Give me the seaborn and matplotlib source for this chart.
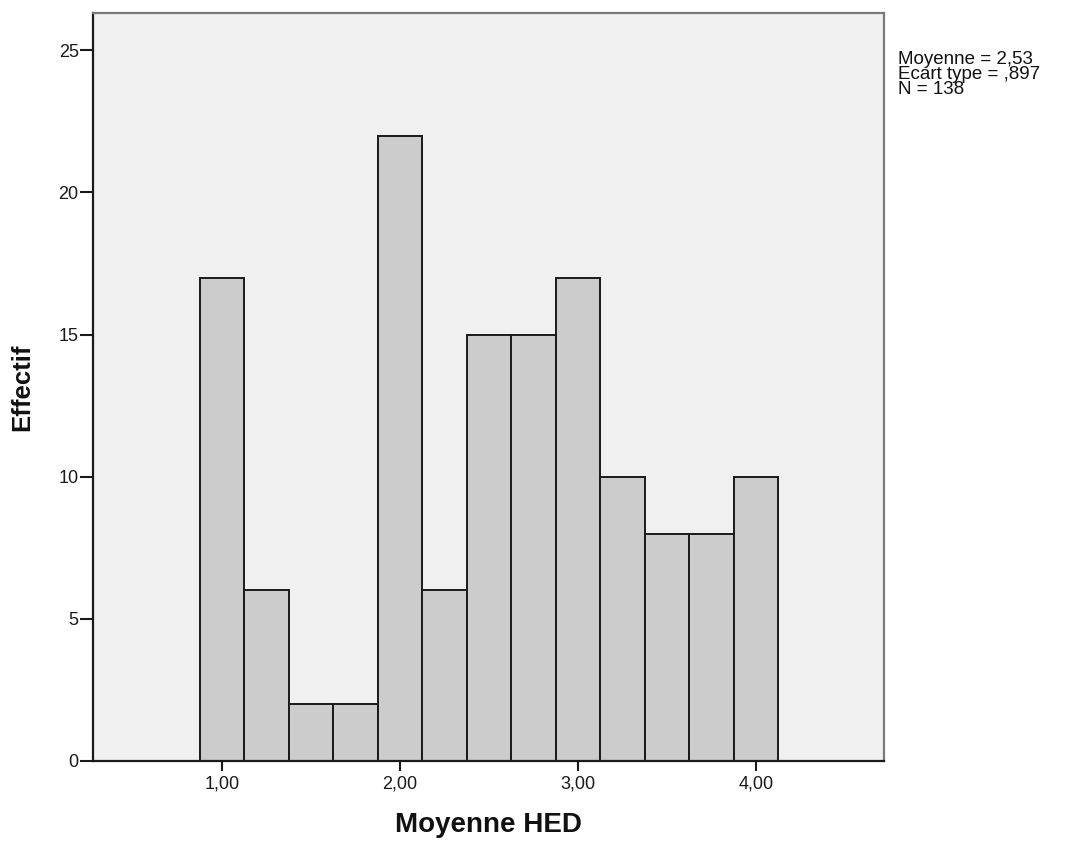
import numpy as np
import pandas as pd
import matplotlib
matplotlib.use("Agg")
import matplotlib.pyplot as plt
import seaborn as sns

# Histogram bins (centres) and counts of "Moyenne HED"
bin_centers = [1.00, 1.25, 1.50, 1.75, 2.00, 2.25, 2.50, 2.75, 3.00, 3.25, 3.50, 3.75, 4.00]
counts = [17, 6, 2, 2, 22, 6, 15, 15, 17, 10, 8, 8, 10]
bin_width = 0.25
x_ticks = [1.0, 2.0, 3.0, 4.0]
x_tick_labels = ["1,00", "2,00", "3,00", "4,00"]
y_ticks = [0, 5, 10, 15, 20, 25]
stats_text = "Moyenne = 2,53\nEcart type = ,897\nN = 138"

df = pd.DataFrame({"HED": bin_centers, "n": counts})
bin_range = (bin_centers[0] - bin_width / 2, bin_centers[-1] + bin_width / 2)

sns.set_theme(style="white")
plt.rcParams["font.family"] = ["Liberation Sans", "DejaVu Sans"]

fig = plt.figure(figsize=(10.65, 8.43), dpi=100)
ax = fig.add_axes([0.0876, 0.0973, 0.7424, 0.8869])
ax.set_facecolor("#F0F0F0")

sns.histplot(data=df, x="HED", weights="n", binwidth=bin_width, binrange=bin_range, ax=ax,
             color="#CCCCCC", alpha=1.0, edgecolor="#1a1a1a", linewidth=1.4)

ax.set_xlim(0.275, 4.72)
ax.set_ylim(0, 26.3)
ax.set_xticks(x_ticks)
ax.set_xticklabels(x_tick_labels)
ax.set_yticks(y_ticks)
ax.set_yticklabels([str(v) for v in y_ticks])

ax.tick_params(axis="both", which="major", direction="out", width=1.5,
               color="#1a1a1a", labelsize=13, labelcolor="#1a1a1a", bottom=True, left=True)
ax.tick_params(axis="y", length=9.5, pad=1)
ax.tick_params(axis="x", length=7.5, pad=3)

for side in ("left", "bottom"):
    ax.spines[side].set_color("#1a1a1a")
    ax.spines[side].set_linewidth(1.6)
for side in ("top", "right"):
    ax.spines[side].set_visible(True)
    ax.spines[side].set_color("#7a7a7a")
    ax.spines[side].set_linewidth(1.6)

ax.set_xlabel("Moyenne HED", fontsize=20, fontweight="bold", color="#111111")
ax.set_ylabel("Effectif", fontsize=18.5, fontweight="bold", color="#111111")
ax.xaxis.set_label_coords(0.5, -0.085)
ax.xaxis.label.set_verticalalignment("center")
ax.yaxis.set_label_coords(-0.0895, 0.5)
ax.yaxis.label.set_verticalalignment("center")

fig.text(0.8432, 0.939, stats_text, fontsize=13.5, color="#111111",
         va="top", ha="left", linespacing=0.84)

fig.savefig("out.png", dpi=100)
